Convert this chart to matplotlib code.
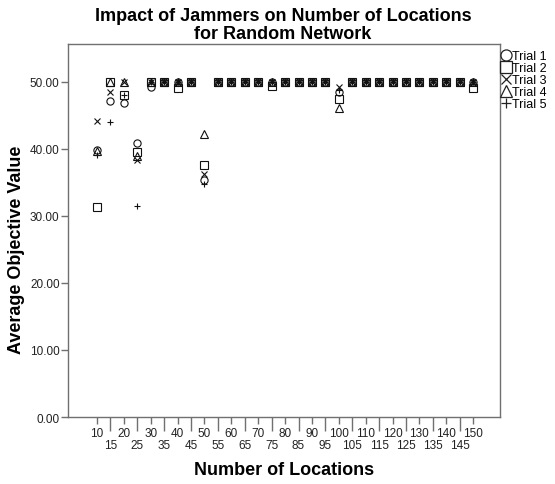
import matplotlib
matplotlib.use("Agg")
import matplotlib.pyplot as plt
from matplotlib.lines import Line2D
import numpy as np

plt.rcParams['font.family'] = ['Liberation Sans', 'DejaVu Sans']

locations = [10, 15, 20, 25, 30, 35, 40, 45, 50, 55, 60, 65, 70, 75, 80,
             85, 90, 95, 100, 105, 110, 115, 120, 125, 130, 135, 140, 145, 150]

trial1 = [39.8, 47.1, 46.8, 40.8, 49.2, 50, 50, 50, 35.4, 50, 50, 50, 50, 49.9, 50,
          50, 50, 50, 48.5, 50, 50, 50, 50, 50, 50, 50, 50, 50, 50]
trial2 = [31.3, 50, 48.0, 39.5, 50, 50, 49.0, 50, 37.5, 50, 50, 50, 50, 49.3, 50,
          50, 50, 50, 47.4, 50, 50, 50, 50, 50, 50, 50, 50, 50, 49.1]
trial3 = [44.1, 48.4, 50, 38.3, 50, 50, 50, 50, 36.2, 50, 50, 50, 50, 50, 50,
          50, 50, 50, 49.2, 50, 50, 50, 50, 50, 50, 50, 50, 50, 50]
trial4 = [39.6, 50, 50, 38.9, 50, 50, 50, 50, 42.2, 50, 50, 50, 50, 50, 50,
          50, 50, 50, 46.0, 50, 50, 50, 50, 50, 50, 50, 50, 50, 50]
trial5 = [39.0, 44.0, 48.0, 31.4, 50, 50, 50, 50, 34.7, 50, 50, 50, 50, 50, 50,
          50, 50, 50, 48.8, 50, 50, 50, 50, 50, 50, 50, 50, 50, 50]

series = [("Trial 1", trial1, 'o'), ("Trial 2", trial2, 's'), ("Trial 3", trial3, 'x'),
          ("Trial 4", trial4, '^'), ("Trial 5", trial5, '+')]

fig = plt.figure(figsize=(5.55, 4.85), dpi=100)
ax = fig.add_axes([0.1225, 0.1381, 0.7784, 0.7691])

idx = np.arange(len(locations))
handles = []
for name, vals, m in series:
    if m in ('x', '+'):
        ax.plot(idx, vals, linestyle='none', marker=m, markersize=4.6,
                color='#111111', markeredgewidth=0.8)
        handles.append(Line2D([], [], linestyle='none', marker=m, markersize=7.5,
                              color='#222222', markeredgewidth=0.9, label=name))
    else:
        ax.plot(idx, vals, linestyle='none', marker=m, markersize=5.2,
                markerfacecolor='none', markeredgecolor='#111111',
                markeredgewidth=0.8)
        handles.append(Line2D([], [], linestyle='none', marker=m, markersize=8,
                              markerfacecolor='none', markeredgecolor='#222222',
                              markeredgewidth=0.9, label=name))

ax.set_xlim(-2.16, 30.0)
ax.set_ylim(0, 55.6)

yt = [0, 10, 20, 30, 40, 50]
ax.set_yticks(yt)
ax.set_yticklabels([f"{v:.2f}" for v in yt])

major = idx[::2]
minor = idx[1::2]
ax.set_xticks(major)
ax.set_xticklabels([str(locations[i]) for i in major])
ax.set_xticks(minor, minor=True)
ax.set_xticklabels([str(locations[i]) for i in minor], minor=True)

for s in ax.spines.values():
    s.set_color('#707070')
    s.set_linewidth(1.0)

ax.tick_params(axis='y', which='major', length=5, width=1, color='#707070',
               labelsize=8.5, labelcolor='#222222', pad=1)
ax.tick_params(axis='x', which='major', length=5, width=1, color='#707070',
               labelsize=8.5, labelcolor='#222222', pad=2)
ax.tick_params(axis='x', which='minor', length=10, width=1, color='#707070',
               labelsize=8.5, labelcolor='#222222', pad=6)

ax.set_xlabel("Number of Locations", fontsize=13, fontweight='bold')
ax.xaxis.set_label_coords(0.5, -0.118)
ax.set_ylabel("Average Objective Value", fontsize=13, fontweight='bold')
ax.yaxis.set_label_coords(-0.1, 0.45)

fig.suptitle("Impact of Jammers on Number of Locations\nfor Random Network",
             x=0.51, y=0.983, fontsize=13, fontweight='bold', linespacing=1.08)

fig.legend(handles=handles, loc='upper left', bbox_to_anchor=(0.904, 0.895),
           frameon=False, handlelength=0.7, handletextpad=0.15,
           labelspacing=0.0, fontsize=9, borderaxespad=0, borderpad=0)

fig.savefig("out.png", dpi=100)
